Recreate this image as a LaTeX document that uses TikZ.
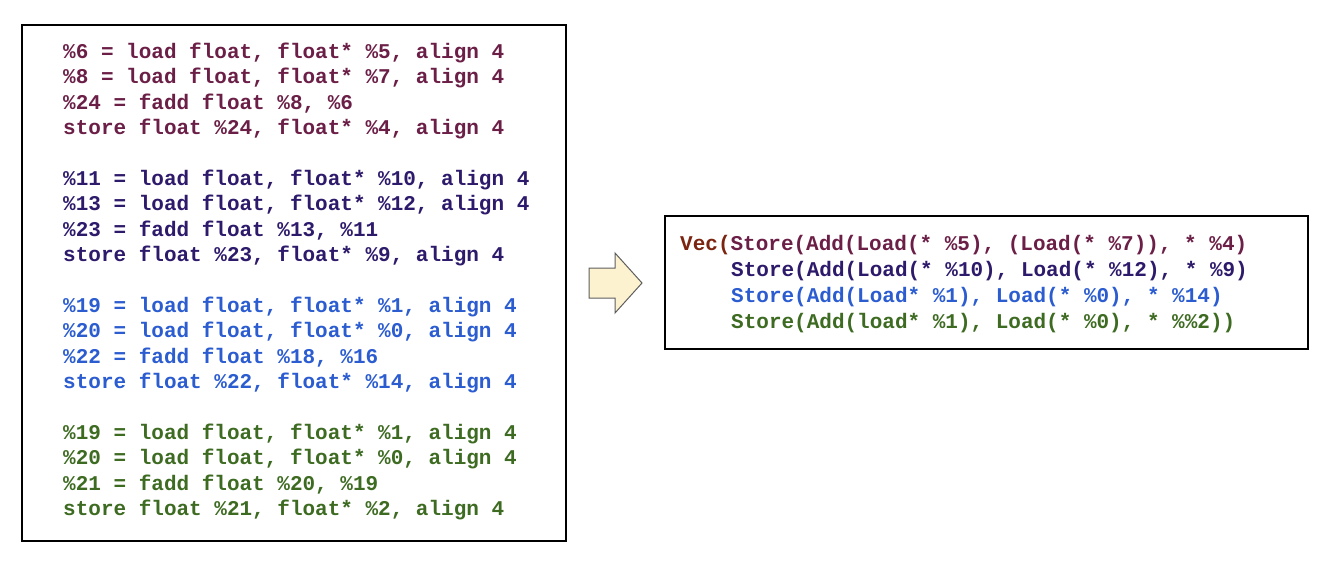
\documentclass[tikz,border=0pt]{standalone}
\usepackage{fontspec}
\setmonofont{Liberation Mono}
\definecolor{cA}{HTML}{6B1F47}
\definecolor{cB}{HTML}{2E1A6B}
\definecolor{cC}{HTML}{2B5CD0}
\definecolor{cD}{HTML}{3E6B22}
\definecolor{cV}{HTML}{7B2410}
\definecolor{arrowfill}{HTML}{FDF2D0}
\definecolor{arrowline}{HTML}{5E5E5E}
\tikzset{
  codeL/.style={anchor=base west, inner sep=0pt, font=\ttfamily\bfseries\fontsize{21}{25}\selectfont},
  codeR/.style={anchor=base west, inner sep=0pt, font=\ttfamily\bfseries\fontsize{21}{25}\selectfont},
  panel/.style={draw=black, line width=1.2pt},
}
\begin{document}
\begin{tikzpicture}[x=1pt,y=-1pt]
\useasboundingbox (0,0) rectangle (1336,570);
% left panel
\draw[panel] (22,25) rectangle (566,541);
\foreach \i/\c/\t in {
 0/cA/{\%6 = load float, float* \%5, align 4},
 1/cA/{\%8 = load float, float* \%7, align 4},
 2/cA/{\%24 = fadd float \%8, \%6},
 3/cA/{store float \%24, float* \%4, align 4},
 5/cB/{\%11 = load float, float* \%10, align 4},
 6/cB/{\%13 = load float, float* \%12, align 4},
 7/cB/{\%23 = fadd float \%13, \%11},
 8/cB/{store float \%23, float* \%9, align 4},
 10/cC/{\%19 = load float, float* \%1, align 4},
 11/cC/{\%20 = load float, float* \%0, align 4},
 12/cC/{\%22 = fadd float \%18, \%16},
 13/cC/{store float \%22, float* \%14, align 4},
 15/cD/{\%19 = load float, float* \%1, align 4},
 16/cD/{\%20 = load float, float* \%0, align 4},
 17/cD/{\%21 = fadd float \%20, \%19},
 18/cD/{store float \%21, float* \%2, align 4}}
 {\node[codeL, text=\c] (L\i) at (63,{58.5+25.4*\i}) {\t};}
% arrow
\draw[fill=arrowfill, draw=arrowline, line width=1pt, line join=miter]
  (589,268) -- (615,268) -- (615,253) -- (642,283) -- (615,313) -- (615,298) -- (589,298) -- cycle;
% right panel
\draw[panel] (665,216) rectangle (1308,349);
\node[codeR] (R0) at (680,250) {\textcolor{cV}{Vec(}\textcolor{cA}{Store(Add(Load(* \%5), (Load(* \%7)), * \%4)}};
\node[codeR, text=cB] (R1) at (731,276) {Store(Add(Load(* \%10), Load(* \%12), * \%9)};
\node[codeR, text=cC] (R2) at (731,302) {Store(Add(Load* \%1), Load(* \%0), * \%14)};
\node[codeR, text=cD] (R3) at (731,328) {Store(Add(load* \%1), Load(* \%0), * \%\%2))};
\end{tikzpicture}
\end{document}
